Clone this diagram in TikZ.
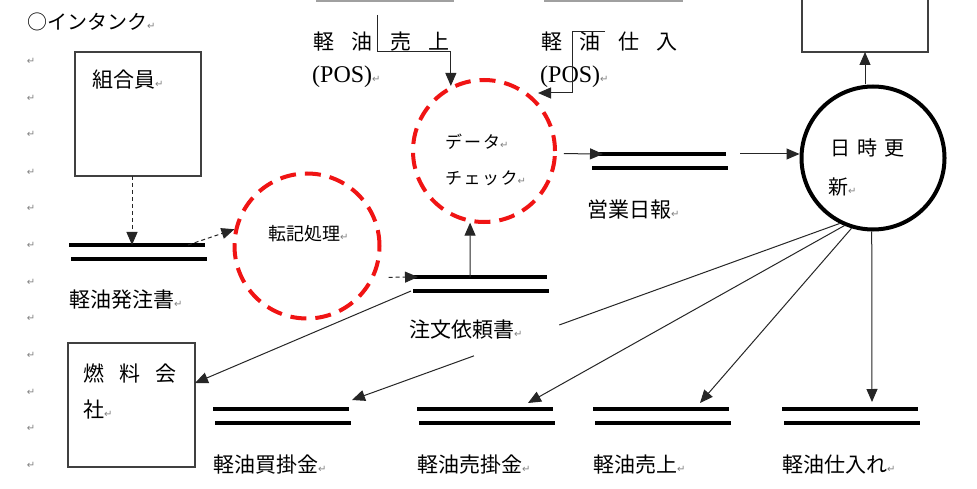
\documentclass[tikz,border=0pt]{standalone}
\usepackage{fontspec}
\setmainfont{Liberation Serif}
\newfontfamily\jpfont{Noto Sans CJK JP}
\newfontfamily\pmfont{DejaVu Sans}
\usetikzlibrary{arrows.meta,calc}
\definecolor{dashred}{RGB}{240,20,20}
\definecolor{pmgray}{RGB}{130,130,130}
\definecolor{boxgray}{RGB}{64,64,64}
\definecolor{topgray}{RGB}{160,160,160}
\newcommand{\pmk}{{\pmfont\fontsize{10}{10}\selectfont\textcolor{pmgray}{↵}}}
\newcommand{\jgap}[1]{\hspace{#1pt}}
\begin{document}
\begin{tikzpicture}[x=1pt,y=-1pt,
  lbl/.style={anchor=west,inner sep=0pt,font=\jpfont\fontsize{21}{24}\selectfont},
  smlbl/.style={anchor=west,inner sep=0pt,font=\jpfont\fontsize{18}{22}\selectfont},
  kanalbl/.style={anchor=west,inner sep=0pt,font=\jpfont\fontsize{17}{20}\selectfont},
  poslbl/.style={anchor=west,inner sep=0pt,font=\fontsize{24}{26}\selectfont},
  pm/.style={inner sep=0pt},
  store/.style={minimum width=136pt,minimum height=14pt,inner sep=0pt,outer sep=0pt},
  sline/.style={line width=4pt,black},
  entity/.style={draw=boxgray,line width=1.3pt,inner sep=0pt,outer sep=0pt},
  topbox/.style={draw=topgray,line width=1.5pt,inner sep=0pt,outer sep=0pt},
  redproc/.style={circle,draw=dashred,line width=4pt,dash pattern=on 16pt off 9pt,inner sep=0pt},
  blackproc/.style={circle,draw=black,line width=4pt,inner sep=0pt},
  arr/.style={line width=1pt,draw=black!85,-{Triangle[length=13pt,width=11pt]}},
  plain/.style={line width=1pt,draw=black!85},
  dasharr/.style={arr,dash pattern=on 4pt off 3pt}]
\useasboundingbox (0,0) rectangle (977,489);
\clip (0,0) rectangle (977,489);
\fill[white] (0,0) rectangle (977,489);

% paragraph marks in left column
\foreach \i/\yy in {1/61,2/98,3/134,4/172,5/208,6/245,7/282,8/318,9/355,10/392,11/428,12/465}
  \node[pm] (pm\i) at (31,\yy) {\pmk};

% title
\node[lbl,font=\jpfont\fontsize{20}{24}\selectfont] (title) at (27,22) {○インタンク\pmk};

% entities
\node[entity,minimum width=126pt,minimum height=124pt] (kumiai) at (138,114) {};
\node[lbl] (kumiait) at (92,80) {組合員\pmk};
\node[entity,minimum width=127pt,minimum height=124pt] (nenryo) at (131.5,405) {};
\node[lbl] (nenryot1) at (83,373) {燃\jgap{15}料\jgap{15}会};
\node[lbl] (nenryot2) at (83,410) {社\pmk};
\node[entity,minimum width=126pt,minimum height=72pt] (topbox) at (865,16) {};
\node[topbox,minimum width=136pt,minimum height=31pt] (posA) at (385,-14.5) {};
\node[topbox,minimum width=137pt,minimum height=31pt] (posB) at (613.5,-14.5) {};
\node[lbl] (posAt1) at (313,42) {軽\jgap{17.5}油\jgap{17.5}売\jgap{17.5}上};
\node[poslbl] (posAt2) at (312,77) {(POS)\pmk};
\node[lbl] (posBt1) at (541,42) {軽\jgap{17.5}油\jgap{17.5}仕\jgap{17.5}入};
\node[poslbl] (posBt2) at (540,77) {(POS)\pmk};

% processes
\node[redproc,minimum size=145pt] (tk) at (307,246) {};
\node[smlbl] (tkt) at (268,234) {転記処理\pmk};
\node[redproc,minimum size=142pt] (dc) at (484,151) {};
\node[kanalbl] (dct1) at (445,142) {デ\jgap{2}ー\jgap{2}タ\pmk};
\node[kanalbl] (dct2) at (445,178) {チ\jgap{1.5}ェ\jgap{1.5}ッ\jgap{1.5}ク\pmk};
\node[blackproc,minimum size=143pt] (upd) at (873,158) {};
\node[lbl,font=\jpfont\fontsize{20}{24}\selectfont] (updt1) at (830,148) {日\jgap{7}時\jgap{7}更};
\node[lbl,font=\jpfont\fontsize{20}{24}\selectfont] (updt2) at (828,187) {新\pmk};

% data stores
\foreach \n/\cx/\cy in {S1/137/252,S2/479/284,S3/658/161,S4/281/416,S5/485/416,S6/661/416,S7/850/416}{
  \node[store] (\n) at (\cx,\cy) {};
  \draw[sline] (\n.north west) -- ++(136,0);
  \draw[sline] ($(\n.south west)+(2,0)$) -- ++(136,0);
}
\node[lbl] (S1t) at (69,300) {軽油発注書\pmk};
\node[lbl] (S2t) at (409,330) {注文依頼書\pmk};
\node[lbl] (S3t) at (587,210) {営業日報\pmk};
\node[lbl] (S4t) at (213,465) {軽油買掛金\pmk};
\node[lbl] (S5t) at (417,465) {軽油売掛金\pmk};
\node[lbl] (S6t) at (593,465) {軽油売上\pmk};
\node[lbl] (S7t) at (782,465) {軽油仕入れ\pmk};

% connector endpoints
\coordinate (pa) at (377,15);
\coordinate (pb) at (605,32);
\coordinate (pbtip) at (538,93);

% connectors
\draw[dasharr] ($(kumiai.south)+(-6,0)$) -- ($(S1.north west)+(63,0)$);
\draw[dasharr] ($(S1.north west)+(119,0)$) -- (tk.167);
\draw[dasharr,shorten <=14pt] (tk.-25) -- ($(S2.north west)+(7,0)$);
\draw[arr] ($(S2.north west)+(59,0)$) -- (dc.259);
\draw[arr] (pa) |- ($(dc.117)+(0,-34)$) -- (dc.117);
\draw[arr] (pb) -- ++(-33,0) |- (pbtip);
\draw[arr,shorten <=7pt] (dc.-2.4) -- ($(S3.north west)+(13,0)$);
\draw[arr,shorten <=14pt] (S3.north east) -- (upd.west |- S3.north);
\draw[arr] (topbox.south |- upd.north) -- (topbox.south);
\draw[arr] (S2.south west) -- ($(nenryo.east)+(0,-22)$);

\coordinate (t4) at ($(S4.north east)+(3,-9)$);
\draw[plain] (upd.243) -- ($(upd.243)!0.575!(t4)$);
\draw[arr] ($(upd.243)!0.75!(t4)$) -- (t4);
\draw[arr] (upd.247.6) -- ($(S5.north west)+(111,-6)$);
\draw[arr] (upd.253.7) -- ($(S6.north west)+(107,-6)$);
\draw[arr] (upd.269) -- ($(S7.north west)+(90,-7)$);
\end{tikzpicture}
\end{document}
